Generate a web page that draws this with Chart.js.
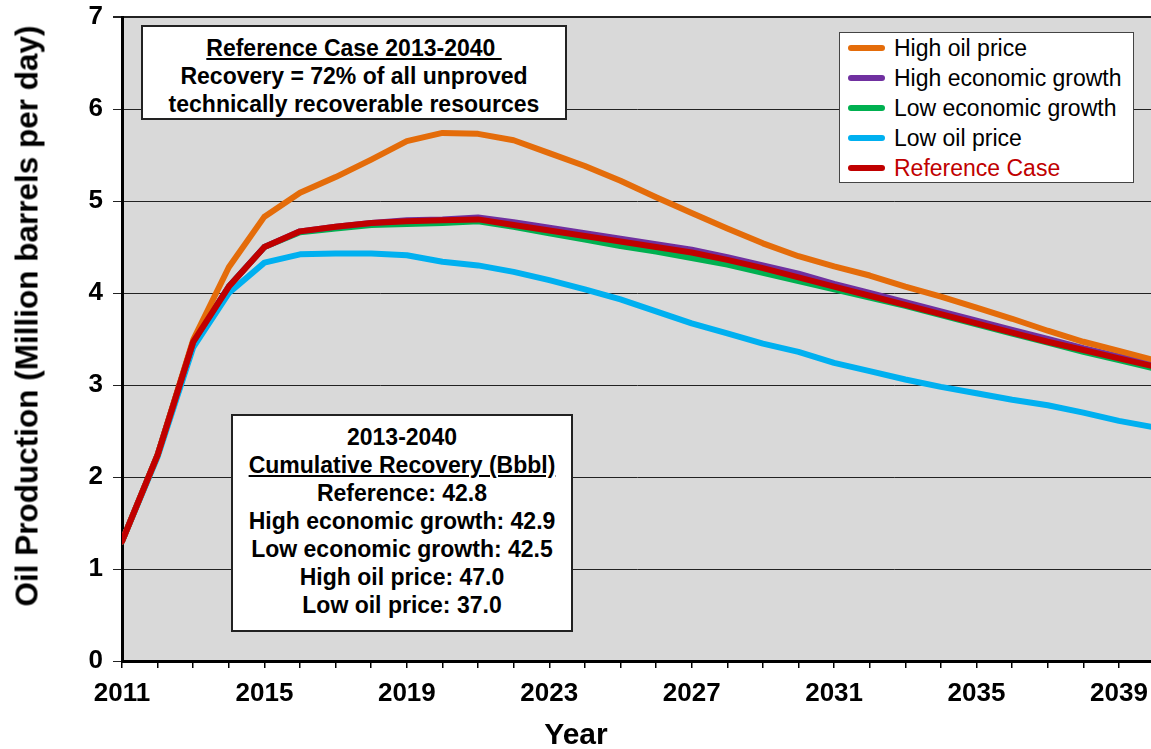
<!DOCTYPE html>
<html>
<head>
<meta charset="utf-8">
<script src="https://cdn.jsdelivr.net/npm/chart.js@4.4.0/dist/chart.umd.min.js"></script>
<style>
  body { margin: 0; background: #fff; overflow: hidden; font-family: "Liberation Sans", Arial, sans-serif; }
  #wrap { position: relative; width: 1151px; height: 749px; }
  #c { position: absolute; left: 0; top: 0; }
  .box { position: absolute; background: #fff; border: 2px solid #222; box-sizing: border-box;
         text-align: center; font-weight: bold; font-size: 23px; line-height: 28px; color: #000; white-space: pre; }
  .u { text-decoration: underline; }
  #ytitle { position: absolute; left: 27px; top: 316px; transform: translate(-50%, -50%) rotate(-90deg);
            font-weight: bold; font-size: 31.5px; white-space: nowrap; color: #000; }
  #xtitle { position: absolute; left: 576px; top: 734px; transform: translate(-50%, -50%);
            font-weight: bold; font-size: 30px; color: #000; }
  #legend { position: absolute; left: 839px; top: 32px; width: 295px; height: 151px; background: #fff;
            border: 1.5px solid #444; box-sizing: border-box; padding-left: 8px; }
  .row { height: 30px; line-height: 30px; font-size: 23px; color: #000; white-space: nowrap; }
  .sw { display: inline-block; width: 37px; height: 6px; border-radius: 3px; vertical-align: middle;
        margin-right: 9px; position: relative; top: -2px; }
</style>
</head>
<body>
<div id="wrap">
  <canvas id="c" width="1151" height="749"></canvas>
  <div id="ytitle">Oil Production (Million barrels per day)</div>
  <div id="xtitle">Year</div>
  <div class="box" style="left:141px; top:25px; width:426px; height:95px; padding-top:7px;"><span class="u">Reference Case 2013-2040 </span>
Recovery = 72% of all unproved
technically recoverable resources</div>
  <div class="box" style="left:231px; top:414px; width:342px; height:218px; padding-top:7px;">2013-2040
<span class="u">Cumulative Recovery (Bbbl)</span>
Reference: 42.8
High economic growth: 42.9
Low economic growth: 42.5
High oil price: 47.0
Low oil price: 37.0</div>
  <div id="legend"></div>
</div>
<script>
var years = [2011, 2012, 2013, 2014, 2015, 2016, 2017, 2018, 2019, 2020,
             2021, 2022, 2023, 2024, 2025, 2026, 2027, 2028, 2029, 2030,
             2031, 2032, 2033, 2034, 2035, 2036, 2037, 2038, 2039, 2040];

var high_price = [1.30, 2.24, 3.49, 4.28, 4.83, 5.09, 5.26, 5.45, 5.65, 5.74,
                  5.73, 5.66, 5.52, 5.38, 5.22, 5.04, 4.87, 4.70, 4.54, 4.40,
                  4.29, 4.19, 4.07, 3.96, 3.84, 3.72, 3.59, 3.47, 3.37, 3.27];
var high_growth = [1.30, 2.24, 3.47, 4.07, 4.50, 4.67, 4.72, 4.76, 4.79, 4.80,
                   4.82, 4.77, 4.71, 4.65, 4.59, 4.53, 4.47, 4.39, 4.30, 4.21,
                   4.10, 4.00, 3.90, 3.80, 3.70, 3.60, 3.50, 3.40, 3.31, 3.22];
var low_growth = [1.30, 2.24, 3.47, 4.07, 4.50, 4.66, 4.70, 4.74, 4.75, 4.76,
                  4.78, 4.72, 4.65, 4.58, 4.51, 4.45, 4.38, 4.31, 4.22, 4.13,
                  4.04, 3.95, 3.86, 3.76, 3.66, 3.56, 3.46, 3.36, 3.27, 3.18];
var low_price = [1.30, 2.22, 3.41, 4.00, 4.33, 4.42, 4.43, 4.43, 4.41, 4.34,
                 4.30, 4.23, 4.14, 4.04, 3.93, 3.80, 3.67, 3.56, 3.45, 3.36,
                 3.24, 3.15, 3.06, 2.98, 2.91, 2.84, 2.78, 2.70, 2.61, 2.54];
var reference = [1.30, 2.24, 3.47, 4.07, 4.50, 4.67, 4.72, 4.76, 4.78, 4.79,
                 4.80, 4.74, 4.68, 4.62, 4.56, 4.50, 4.44, 4.36, 4.27, 4.17,
                 4.07, 3.97, 3.87, 3.77, 3.67, 3.57, 3.47, 3.38, 3.29, 3.20];

var y_ticks = [0, 1, 2, 3, 4, 5, 6, 7];

// legend order as in the picture
var series = [
    { label: "High oil price", data: high_price, color: "#E46C0A", text: "#000" },
    { label: "High economic growth", data: high_growth, color: "#7030A0", text: "#000" },
    { label: "Low economic growth", data: low_growth, color: "#00B050", text: "#000" },
    { label: "Low oil price", data: low_price, color: "#00B0F0", text: "#000" },
    { label: "Reference Case", data: reference, color: "#C00000", text: "#C00000" }
];
// drawing order (last on top)
var draw_order = [3, 2, 1, 0, 4];

function puntos(arr) {
    return arr.map(function (v, i) { return { x: years[i], y: v }; });
}

var datasets = draw_order.map(function (k) {
    var s = series[k];
    return {
        label: s.label,
        data: puntos(s.data),
        borderColor: s.color,
        backgroundColor: s.color,
        borderWidth: 6,
        pointRadius: 0,
        tension: 0,
        fill: false,
        borderJoinStyle: 'round',
        borderCapStyle: 'round',
        order: draw_order.length - draw_order.indexOf(k)
    };
});

var legend = document.getElementById('legend');
series.forEach(function (s) {
    var row = document.createElement('div');
    row.className = 'row';
    row.innerHTML = '<span class="sw" style="background:' + s.color + '"></span><span style="color:' + s.text + '">' + s.label + '</span>';
    legend.appendChild(row);
});

var fondo = {
    id: 'fondo',
    beforeDraw: function (chart) {
        var a = chart.chartArea, ctx = chart.ctx;
        ctx.save();
        ctx.fillStyle = '#fff';
        ctx.fillRect(0, 0, chart.width, chart.height);
        ctx.fillStyle = '#D9D9D9';
        ctx.fillRect(a.left, a.top, a.right - a.left, a.bottom - a.top);
        ctx.restore();
    }
};

var ctx = document.getElementById('c').getContext('2d');
var chart = new Chart(ctx, {
    type: 'line',
    data: { datasets: datasets },
    options: {
        responsive: false,
        animation: false,
        devicePixelRatio: 1,
        layout: { padding: { top: 17, right: 0, left: 0, bottom: 0 } },
        plugins: { legend: { display: false }, tooltip: { enabled: false } },
        scales: {
            x: {
                type: 'linear',
                min: years[0],
                max: 2039.9,
                afterFit: function (s) { s.height = 88; s.paddingLeft = 0; s.paddingRight = 0; },
                afterBuildTicks: function (s) {
                    s.ticks = years.slice(0, years.length - 1).map(function (v) { return { value: v }; });
                },
                ticks: {
                    autoSkip: false,
                    maxRotation: 0,
                    padding: 10,
                    color: '#000',
                    font: { family: 'Liberation Sans', size: 26, weight: 'bold' },
                    callback: function (v) { return (v - 2011) % 4 === 0 ? String(v) : ''; }
                },
                grid: { drawOnChartArea: false, drawTicks: true, tickLength: 7, color: '#000', lineWidth: 1.5 },
                border: { color: '#000', width: 3 }
            },
            y: {
                min: 0,
                max: 7,
                afterFit: function (s) { s.width = 122; s.paddingTop = 0; s.paddingBottom = 0; },
                afterBuildTicks: function (s) {
                    s.ticks = y_ticks.map(function (v) { return { value: v }; });
                },
                ticks: {
                    padding: 10,
                    color: '#000',
                    font: { family: 'Liberation Sans', size: 26, weight: 'bold' }
                },
                grid: {
                    color: '#222',
                    lineWidth: function (c) { return c.tick && c.tick.value === 7 ? 2 : 1; },
                    tickLength: 9
                },
                border: { color: '#000', width: 3 }
            }
        }
    },
    plugins: [fondo]
});
</script>
</body>
</html>
